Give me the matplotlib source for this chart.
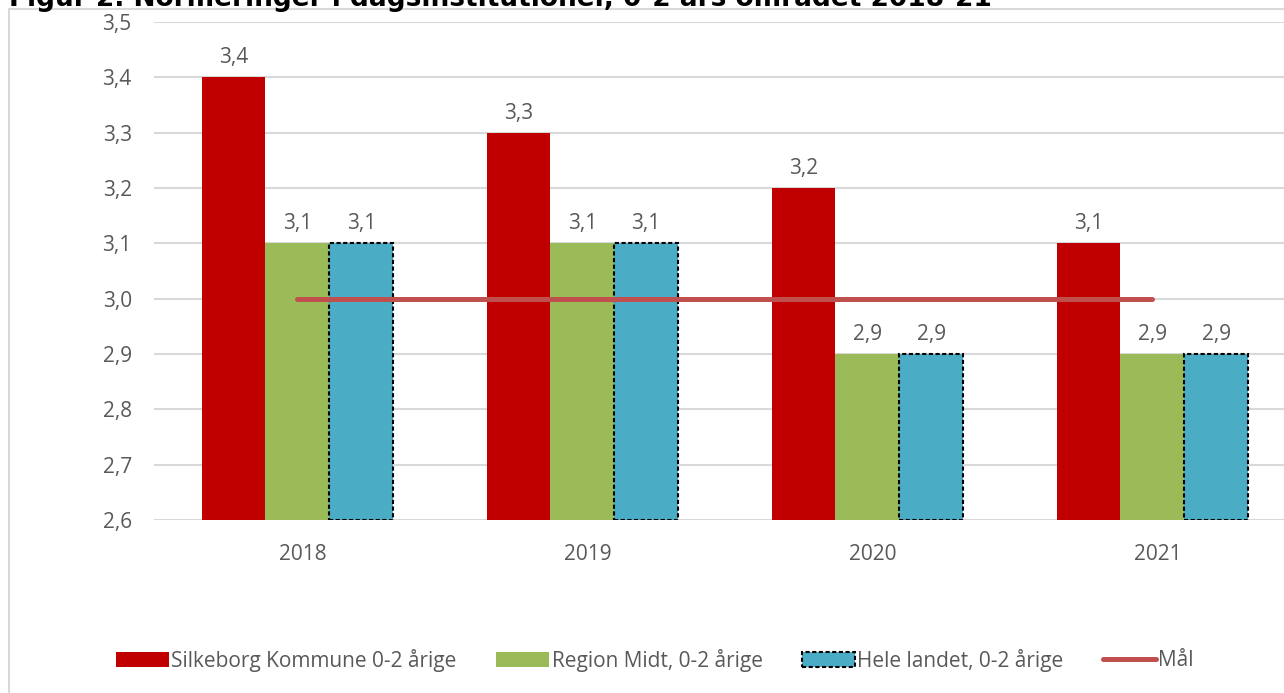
import matplotlib
matplotlib.use("Agg")
import matplotlib.pyplot as plt
from matplotlib.patches import Rectangle
from matplotlib.lines import Line2D
from matplotlib.patches import Patch

years = ["2018", "2019", "2020", "2021"]
silkeborg = [3.4, 3.3, 3.2, 3.1]
region_midt = [3.1, 3.1, 2.9, 2.9]
hele_landet = [3.1, 3.1, 2.9, 2.9]
maal = [3.0, 3.0, 3.0, 3.0]
series_names = ["Silkeborg Kommune 0-2 årige", "Region Midt, 0-2 årige",
                "Hele landet, 0-2 årige", "Mål"]
yticks = [2.6, 2.7, 2.8, 2.9, 3.0, 3.1, 3.2, 3.3, 3.4, 3.5]
title = "Figur 2. Normeringer i dagsinstitutioner, 0-2 års området 2018-21"

FONT = "Open Sans"
FS = 15
TXT = "#595959"
W, H = 1284, 693
fig = plt.figure(figsize=(W / 100, H / 100), dpi=100)

# chart border
fig.patches.append(Rectangle((9 / W, -0.01), 1.1, (H - 8.5) / H + 0.01,
                             transform=fig.transFigure, fill=False,
                             edgecolor="#D9D9D9", linewidth=1.5))

ax = fig.add_axes([154 / W, (H - 520) / H, (W - 154) / W, (520 - 22) / H])
ax.set_xlim(-0.523, 3.442)
ax.set_ylim(2.6, 3.5)

shift = -0.02
bw = 0.224
x = list(range(len(years)))
colors = ["#C00000", "#9BBB59", "#4BACC6"]
data = [silkeborg, region_midt, hele_landet]
offsets = [-bw, 0, bw]
for k, (vals, col, off) in enumerate(zip(data, colors, offsets)):
    xs = [i + shift + off for i in x]
    if k == 2:
        ax.bar(xs, [v - 2.6 for v in vals], bottom=2.6, width=bw,
               color=col, edgecolor="black", linewidth=1.5,
               linestyle=(0, (2, 1.2)), zorder=3)
    else:
        ax.bar(xs, [v - 2.6 for v in vals], bottom=2.6, width=bw,
               color=col, edgecolor="none", zorder=3)
    for xi, v in zip(xs, vals):
        ax.annotate(f"{v:.1f}".replace(".", ","), (xi, v), xytext=(0, 9),
                    textcoords="offset pixels", ha="center", va="bottom",
                    fontsize=FS, family=FONT, color=TXT)

ax.plot([i + shift for i in x], maal, color="#C0504D", linewidth=3.6,
        solid_capstyle="round", zorder=4)

ax.set_yticks(yticks)
ax.set_yticklabels([f"{t:.1f}".replace(".", ",") for t in yticks],
                   family=FONT, fontsize=FS, color=TXT)
ax.set_xticks(x)
ax.set_xticklabels(years, family=FONT, fontsize=FS, color=TXT)
ax.tick_params(axis="both", length=0)
ax.tick_params(axis="y", pad=16)
ax.tick_params(axis="x", pad=17)
ax.grid(axis="y", color="#D9D9D9", linewidth=1.5, zorder=0)
ax.set_axisbelow(True)
for s in ax.spines.values():
    s.set_visible(False)

handles = [Patch(facecolor=colors[0], edgecolor="none"),
           Patch(facecolor=colors[1], edgecolor="none"),
           Patch(facecolor=colors[2], edgecolor="black", linewidth=1.5,
                 linestyle=(0, (2, 1.2))),
           Line2D([0], [0], color="#C0504D", linewidth=3.6,
                  solid_capstyle="round")]
leg = fig.legend(handles, series_names, loc="center",
                 bbox_to_anchor=(655 / W, (H - 660) / H), ncol=4,
                 frameon=False, prop={"family": FONT, "size": FS},
                 handlelength=2.55, handleheight=0.75, handletextpad=0.1,
                 columnspacing=1.9, labelcolor=TXT)

fig.text(9 / W, (H - 6) / H, title, fontsize=19, fontweight="bold",
         family="DejaVu Sans", color="black", ha="left", va="baseline")

fig.savefig("out.png", dpi=100)
